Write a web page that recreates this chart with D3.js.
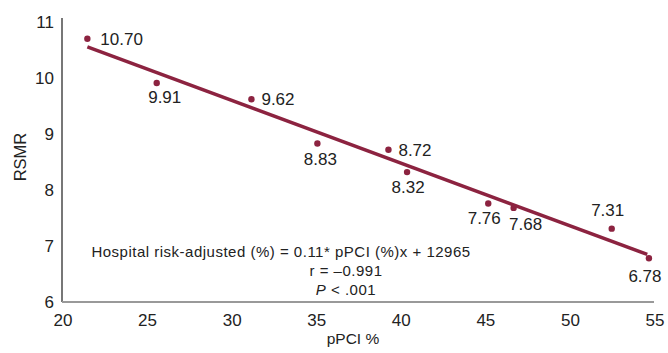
<!DOCTYPE html>
<html>
<head>
<meta charset="utf-8">
<script src="https://cdn.jsdelivr.net/npm/d3@7"></script>
<style>
  body { margin: 0; background: #fff; }
  svg text { font-family: "Liberation Sans", Arial, sans-serif; fill: #222; }
</style>
</head>
<body>
<svg width="668" height="353"></svg>
<script>
// Data
const pPCI = [21.5, 25.6, 31.2, 35.1, 39.3, 40.4, 45.2, 46.7, 52.5, 54.7];
const rsmr = [10.70, 9.91, 9.62, 8.83, 8.72, 8.32, 7.76, 7.68, 7.31, 6.78];
const labels = ["10.70", "9.91", "9.62", "8.83", "8.72", "8.32", "7.76", "7.68", "7.31", "6.78"];
// label placement relative to each point: [dx, dy, anchor]
const labelPos = [
  [13, 6, "start"], [8, 20, "middle"], [10, 6, "start"], [3, 21, "middle"],
  [10, 6, "start"], [1, 21, "middle"], [-4, 21, "middle"], [12, 22, "middle"],
  [-4, -13, "middle"], [-4, 24, "middle"]
];
const fitX = [21.5, 54.6];
const slope = -0.112, intercept = 12.965;
const xTicks = [20, 25, 30, 35, 40, 45, 50, 55];
const yTicks = [6, 7, 8, 9, 10, 11];

const red = "#8c2340";
const svg = d3.select("svg");

const x = d3.scaleLinear().domain([20, 55]).range([62, 654]);
const y = d3.scaleLinear().domain([6, 11]).range([302, 22]);

// axes
svg.append("line").attr("x1", x(20)).attr("x2", x(20)).attr("y1", y(11) - 4).attr("y2", y(6))
  .attr("stroke", "#777").attr("stroke-width", 2);
svg.append("line").attr("x1", x(20)).attr("x2", x(55)).attr("y1", y(6)).attr("y2", y(6))
  .attr("stroke", "#999").attr("stroke-width", 2);

svg.selectAll(".yt").data(yTicks).enter().append("text")
  .attr("x", x(20) - 8).attr("y", d => y(d) + 6)
  .attr("text-anchor", "end").attr("font-size", 17).text(d => d);

svg.selectAll(".xt").data(xTicks).enter().append("text")
  .attr("x", d => x(d) + 1).attr("y", y(6) + 24)
  .attr("text-anchor", "middle").attr("font-size", 17).text(d => d);

svg.append("text").attr("transform", `translate(26,${157}) rotate(-90)`)
  .attr("text-anchor", "middle").attr("font-size", 16.5).text("RSMR");
svg.append("text").attr("x", 353).attr("y", 344)
  .attr("text-anchor", "middle").attr("font-size", 15.5).text("pPCI %");

// regression line
svg.append("line")
  .attr("x1", x(fitX[0])).attr("y1", y(intercept + slope * fitX[0]))
  .attr("x2", x(fitX[1])).attr("y2", y(intercept + slope * fitX[1]))
  .attr("stroke", red).attr("stroke-width", 3.5);

// points
svg.selectAll(".pt").data(pPCI).enter().append("circle")
  .attr("cx", d => x(d)).attr("cy", (d, i) => y(rsmr[i]))
  .attr("r", 3.2).attr("fill", red);

svg.selectAll(".lb").data(labels).enter().append("text")
  .attr("x", (d, i) => x(pPCI[i]) + labelPos[i][0])
  .attr("y", (d, i) => y(rsmr[i]) + labelPos[i][1])
  .attr("text-anchor", (d, i) => labelPos[i][2])
  .attr("font-size", 17).text(d => d);

// annotation
const ann = svg.append("g").attr("font-size", 15).attr("letter-spacing", 0.5);
ann.append("text").attr("x", 281).attr("y", 257).attr("text-anchor", "middle")
  .text("Hospital risk-adjusted (%) = 0.11* pPCI (%)x + 12965");
ann.append("text").attr("x", 346).attr("y", 276).attr("text-anchor", "middle")
  .text("r = \u20130.991");
const pt = ann.append("text").attr("x", 346).attr("y", 295).attr("text-anchor", "middle");
pt.append("tspan").attr("font-style", "italic").text("P");
pt.append("tspan").text(" < .001");
</script>
</body>
</html>
